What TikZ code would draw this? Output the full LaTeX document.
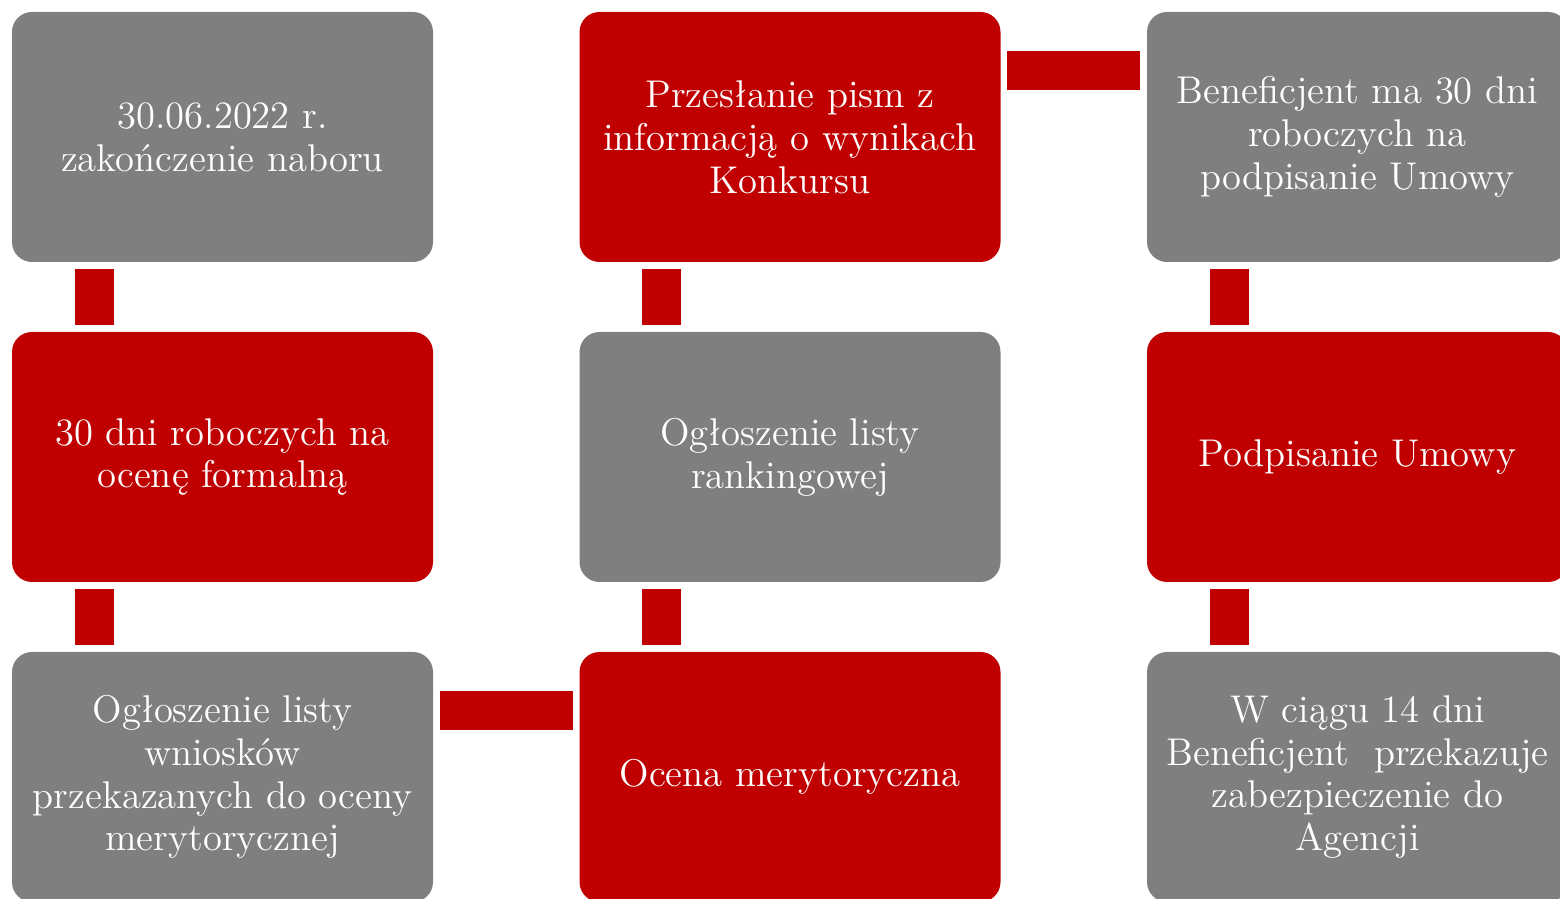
\documentclass[tikz,border=0pt]{standalone}
\usepackage{tikz}
\usetikzlibrary{positioning}
\definecolor{stepgray}{HTML}{7F7F7F}
\definecolor{stepred}{HTML}{C00000}
\tikzstyle{block} = [rounded corners=0.2cm,minimum width=4.21cm,minimum height=2.5cm,
    text=white,align=center,font=\fontsize{11}{12.2}\selectfont,inner sep=0pt]
\tikzstyle{gblock} = [block,fill=stepgray]
\tikzstyle{rblock} = [block,fill=stepred]
\tikzstyle{link} = [draw=stepred,line width=0.39cm,shorten <=0.06cm,shorten >=0.06cm]

\begin{document}
\begin{tikzpicture}
	\useasboundingbox (0,0) rectangle (15.6,-8.99);
	\clip (0,0) rectangle (15.6,-8.99);
	% first column
	\node(start) at (2.225,-1.37) [gblock] {30.06.2022 r.\\zakończenie naboru};
	\node(formal) at (2.225,-4.57) [rblock] {30 dni roboczych na\\ocenę formalną};
	\node(list1) at (2.225,-7.77) [gblock] {Ogłoszenie listy\\wniosków\\przekazanych do oceny\\merytorycznej};
	% second column
	\node(letters) at (7.90,-1.37) [rblock] {Przesłanie pism z\\informacją o wynikach\\Konkursu};
	\node(ranking) at (7.90,-4.57) [gblock] {Ogłoszenie listy\\rankingowej};
	\node(merit) at (7.90,-7.77) [rblock] {Ocena merytoryczna};
	% third column
	\node(days) at (13.575,-1.37) [gblock] {Beneficjent ma 30 dni\\roboczych na\\podpisanie Umowy};
	\node(sign) at (13.575,-4.57) [rblock] {Podpisanie Umowy};
	\node(secure) at (13.575,-7.77) [gblock] {W ciągu 14 dni\\Beneficjent\ \ przekazuje\\zabezpieczenie do\\Agencji};
	
	\draw[link] ([xshift=0.835cm]start.south west) -- ([xshift=0.835cm]formal.north west);
	\draw[link] ([xshift=0.835cm]formal.south west) -- ([xshift=0.835cm]list1.north west);
	\draw[link] ([yshift=-0.59cm]list1.north east) -- ([yshift=-0.59cm]merit.north west);
	\draw[link] ([xshift=0.825cm]merit.north west) -- ([xshift=0.825cm]ranking.south west);
	\draw[link] ([xshift=0.825cm]ranking.north west) -- ([xshift=0.825cm]letters.south west);
	\draw[link] ([yshift=-0.59cm]letters.north east) -- ([yshift=-0.59cm]days.north west);
	\draw[link] ([xshift=0.835cm]days.south west) -- ([xshift=0.835cm]sign.north west);
	\draw[link] ([xshift=0.835cm]sign.south west) -- ([xshift=0.835cm]secure.north west);
\end{tikzpicture}
\end{document}
